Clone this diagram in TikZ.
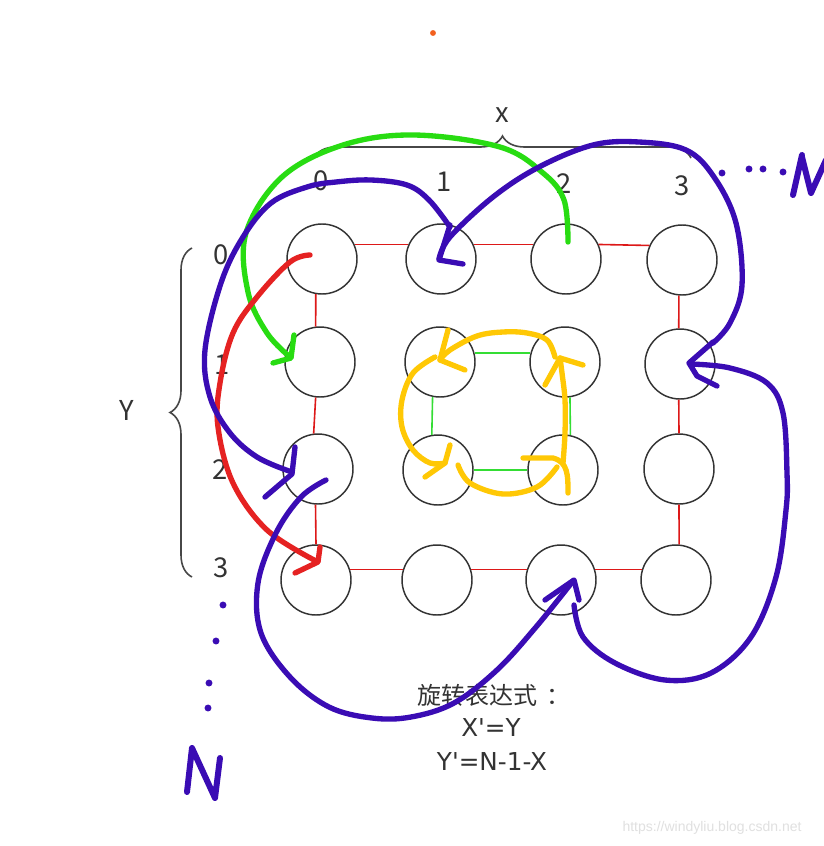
\documentclass[tikz,border=0pt]{standalone}
\usepackage{fontspec}
\setmainfont{Noto Sans CJK SC}[Ligatures=TeXOff]
\newfontfamily\rulefont{DejaVu Sans}[Ligatures=TeXOff]
\newfontfamily\markfont{Liberation Sans}
\usetikzlibrary{decorations.pathreplacing}
\definecolor{inkpurple}{HTML}{3A0CB4}
\definecolor{inkred}{HTML}{E52222}
\definecolor{inkgreen}{HTML}{28DC12}
\definecolor{inkyellow}{HTML}{FFC805}
\definecolor{gridred}{HTML}{DD1818}
\definecolor{gridgreen}{HTML}{34DD34}
\definecolor{textgray}{HTML}{333333}
\definecolor{dotorange}{HTML}{F2601E}
\tikzset{
  cell/.style={circle, draw=textgray, line width=1.1pt, minimum size=52.5pt, inner sep=0pt},
  axislabel/.style={text=textgray, font=\fontsize{20.5}{24}\selectfont, inner sep=0pt},
  note/.style={text=textgray, font=\fontsize{18}{21}\selectfont, inner sep=0pt},
  latinnote/.style={text=textgray, font=\rulefont\fontsize{18.5}{22}\selectfont, inner sep=0pt},
  bracepen/.style={draw=textgray!90, line width=1.2pt, decorate, decoration={brace, amplitude=16.5pt}},
  pen/.style={line width=4pt, line cap=round, line join=round},
  redlink/.style={draw=gridred, line width=1.2pt},
  greenlink/.style={draw=gridgreen, line width=1.2pt}
}
\begin{document}
\begin{tikzpicture}[x=0.75pt,y=-0.75pt]
\useasboundingbox (0,0) rectangle (824,846);
\fill[white] (0,0) rectangle (824,846);

% cells
\node[cell] (c00) at (322,259) {};
\node[cell] (c01) at (441,259) {};
\node[cell] (c02) at (566,259) {};
\node[cell] (c03) at (682,260) {};
\node[cell] (c10) at (320,362) {};
\node[cell] (c11) at (440,362) {};
\node[cell] (c12) at (565,362) {};
\node[cell] (c13) at (680,364) {};
\node[cell] (c20) at (318,469) {};
\node[cell] (c21) at (438,470) {};
\node[cell] (c22) at (563,470) {};
\node[cell] (c23) at (679,469) {};
\node[cell] (c30) at (316,580) {};
\node[cell] (c31) at (437,580) {};
\node[cell] (c32) at (561,580) {};
\node[cell] (c33) at (676,580) {};

% outer ring
\draw[redlink] (c00.24) -- (c01.156);
\draw[redlink] (c01.24) -- (c02.156);
\draw[redlink] (c02.24) -- (c03.156);
\draw[redlink] (c00.260) -- (c10.97);
\draw[redlink] (c10.263) -- (c20.97);
\draw[redlink] (c20.266) -- (c30.90);
\draw[redlink] (c03.265) -- (c13.92);
\draw[redlink] (c13.268) -- (c23.90);
\draw[redlink] (c23.270) -- (c33.85);
\draw[redlink] (c30.17) -- (c31.163);
\draw[redlink] (c31.17) -- (c32.163);
\draw[redlink] (c32.17) -- (c33.163);

% inner ring
\draw[greenlink] (c11.15) -- (c12.165);
\draw[greenlink] (c11.258) -- (c21.100);
\draw[greenlink] (c12.278) -- (c22.78);
\draw[greenlink] (c21.east) -- (c22.west);

% axes
\node[axislabel] (xname) at (502,115) {x};
\node[axislabel] (x0) at (321,181) {0};
\node[axislabel] (x1) at (444,182) {1};
\node[axislabel] (x2) at (564,184) {2};
\node[axislabel] (x3) at (682,186) {3};
\node[axislabel] (yname) at (127,410) {Y};
\node[axislabel] (y0) at (221,255) {0};
\node[axislabel] (y1) at (222,365) {1};
\node[axislabel] (y2) at (220,470) {2};
\node[axislabel] (y3) at (221,568) {3};
\draw[bracepen] (314,158) -- (691,158);
\draw[bracepen] (192,577) -- (192,248);

% rule
\node[note] (rule1) at (494,695) {旋转表达式\kern7pt：};
\node[latinnote] (rule2) at (491,728) {X'=Y};
\node[latinnote] (rule3) at (492,761) {Y'=N-1-X};
\node[font=\markfont\fontsize{10.5}{12}\selectfont, text=black!12, inner sep=0pt] (mark) at (712,828) {https://windyliu.blog.csdn.net};
\fill[dotorange] (433,33) circle (2.2pt);

% green: c02 -> c10
\draw[pen, inkgreen] plot[smooth, tension=0.6] coordinates {(568,242) (564,200) (543,173) (500,147) (414,135) (343,145) (282,177) (246,233) (248,292) (267,333) (290,357)};
\draw[pen, inkgreen] (294,335) -- (291,358) -- (273,363);

% red: c00 -> c30
\draw[pen, inkred] plot[smooth, tension=0.6] coordinates {(310,255) (290,262) (257,297) (233,333) (220,383) (218,427) (233,483) (267,530) (316,561)};
\draw[pen, inkred] (320,547) -- (318,562) -- (295,573);

% purple: c01 -> c20
\draw[pen, inkpurple] plot[smooth, tension=0.6] coordinates {(450,227) (429,200) (407,185) (371,180) (336,182) (307,187) (271,203) (243,237) (221,283) (205,350) (210,397) (230,433) (257,457) (289,471)};
\draw[pen, inkpurple] (295,447) -- (292,474) -- (265,497);

% purple: c13 -> c01
\draw[pen, inkpurple] plot[smooth, tension=0.6] coordinates {(713,343) (730,323) (742,285) (736,223) (714,177) (686,150) (639,142) (593,145) (539,167) (493,197) (450,237) (439,259)};
\draw[pen, inkpurple] (450,225) -- (439,260) -- (463,264);

% purple: c32 -> c13
\draw[pen, inkpurple] plot[smooth, tension=0.6] coordinates {(574,605) (583,637) (615,663) (665,680) (711,673) (751,637) (776,577) (786,510) (787,473) (783,413) (767,383) (730,368) (691,364)};
\draw[pen, inkpurple] (713,342) -- (689,363) -- (697,376) -- (717,386);

% purple: c20 -> c32
\draw[pen, inkpurple] plot[smooth, tension=0.6] coordinates {(326,480) (301,497) (276,533) (258,583) (261,633) (290,677) (329,707) (372,718) (411,717) (454,703) (497,670) (536,627) (573,581)};
\draw[pen, inkpurple] (545,600) -- (574,580) -- (579,600);

% yellow: inner turn
\draw[pen, inkyellow] plot[smooth, tension=0.6] coordinates {(555,357) (547,340) (527,333) (503,332) (477,336) (450,350) (440,360)};
\draw[pen, inkyellow] (448,330) -- (440,360) -- (465,370);
\draw[pen, inkyellow] plot[smooth, tension=0.6] coordinates {(435,357) (413,373) (402,400) (402,427) (413,450) (430,463) (445,463)};
\draw[pen, inkyellow] (450,445) -- (445,463) -- (425,477);
\draw[pen, inkyellow] plot[smooth, tension=0.6] coordinates {(458,465) (470,483) (503,494) (537,487) (557,467)};
\draw[pen, inkyellow] (523,458) -- (553,458) .. controls (568,462) and (568,475) .. (568,493);
\draw[pen, inkyellow] plot[smooth, tension=0.6] coordinates {(563,463) (565,433) (565,400) (562,373) (560,358)};
\draw[pen, inkyellow] (545,385) -- (560,358) -- (583,365);

% ellipses and N
\fill[inkpurple] (722,173) circle (2.6pt);
\fill[inkpurple] (749,169) circle (2.6pt);
\fill[inkpurple] (763,169) circle (2.6pt);
\fill[inkpurple] (783,172) circle (2.6pt);
\draw[pen, inkpurple, line width=4.5pt] (802,155) -- (793,195);
\draw[pen, inkpurple, line width=4.5pt] (802,157) -- (811,193) -- (826,160);
\fill[inkpurple] (223,605) circle (2.6pt);
\fill[inkpurple] (216,641) circle (2.6pt);
\fill[inkpurple] (209,683) circle (2.6pt);
\fill[inkpurple] (208,708) circle (2.6pt);
\draw[pen, inkpurple, line width=4.5pt] (187,792) -- (192,748) -- (215,798) -- (220,758);
\end{tikzpicture}
\end{document}
